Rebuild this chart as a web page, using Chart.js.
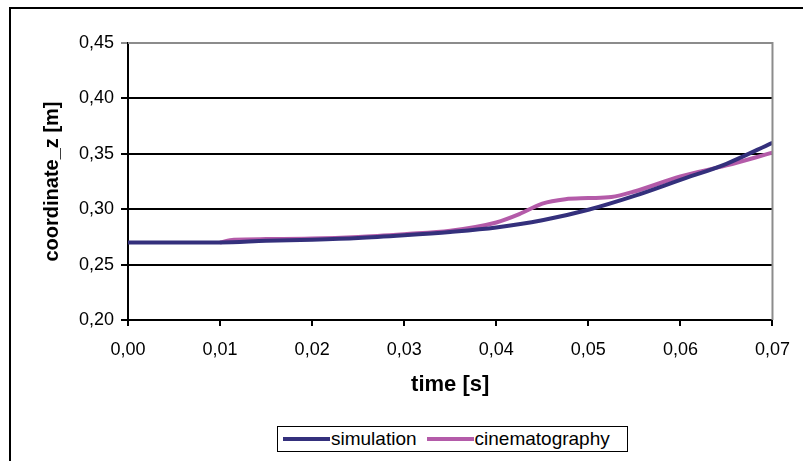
<!DOCTYPE html>
<html>
<head>
<meta charset="utf-8">
<script src="https://cdn.jsdelivr.net/npm/chart.js@4"></script>
<style>
  html, body { margin: 0; padding: 0; background: #fff; overflow: hidden; }
  #wrap { position: relative; width: 803px; height: 461px; }
  #frame { position: absolute; left: 9px; top: 7px; width: 900px; height: 600px; border: 2px solid #000; }
  #chart { position: absolute; left: 0; top: 0; }
  #legend {
    position: absolute; left: 277px; top: 426px; width: 344px; height: 24px;
    border: 1px solid #000; background: #fff;
    display: flex; align-items: center; padding: 0 0 0 5px; box-sizing: content-box;
    font-family: 'Liberation Sans', Arial, sans-serif; font-size: 19px; color: #000;
  }
  #legend .item { display: flex; align-items: center; margin-right: 10px; }
  #legend .item:last-child { margin-right: 0; }
  #legend .swatch { width: 47px; height: 4px; margin-right: 1px; }
</style>
</head>
<body>
<div id="wrap">
  <div id="frame"></div>
  <canvas id="chart" width="803" height="461"></canvas>
  <div id="legend"></div>
</div>
<script>
// ------------------------------------
// Data
// ------------------------------------
const seriesNames = ['simulation', 'cinematography'];
const seriesColors = ['#34307c', '#b45ba9'];

const simTime = [0, 0.005, 0.01, 0.015, 0.02, 0.025, 0.03, 0.035, 0.04, 0.045, 0.05, 0.055, 0.06, 0.065, 0.07];
const simZ    = [0.270, 0.270, 0.270, 0.2715, 0.2725, 0.274, 0.2765, 0.2795, 0.2835, 0.290, 0.2995, 0.312, 0.3265, 0.341, 0.360];

const cineTime = [0.01, 0.0115, 0.015, 0.02, 0.025, 0.03, 0.035, 0.04, 0.0425, 0.045, 0.0475, 0.05, 0.0525, 0.055, 0.06, 0.065, 0.07];
const cineZ    = [0.270, 0.2725, 0.273, 0.2735, 0.275, 0.2775, 0.2805, 0.288, 0.2955, 0.305, 0.309, 0.310, 0.311, 0.316, 0.3295, 0.3395, 0.351];

const xTicks = [0, 0.01, 0.02, 0.03, 0.04, 0.05, 0.06, 0.07];
const yTicks = [0.20, 0.25, 0.30, 0.35, 0.40, 0.45];

const toPoints = (xs, ys) => xs.map((x, i) => ({ x: x, y: ys[i] }));
const comma = v => Number(v).toFixed(2).replace('.', ',');

const tickFont = { family: "'Liberation Sans', Arial, sans-serif", size: 18 };
const titleFont = size => ({ family: "'Liberation Sans', Arial, sans-serif", size: size, weight: 'bold' });

// right + top plot border in grey
const plotBorder = {
    id: 'plotBorder',
    afterDatasetsDraw(chart) {
        const { ctx, chartArea: a } = chart;
        ctx.save();
        ctx.strokeStyle = '#8c8c8c';
        ctx.lineWidth = 2;
        ctx.beginPath();
        ctx.moveTo(a.left, a.top);
        ctx.lineTo(a.right, a.top);
        ctx.lineTo(a.right, a.bottom);
        ctx.stroke();
        ctx.restore();
    }
};

const datasets = [
    { label: seriesNames[0], data: toPoints(simTime, simZ) },
    { label: seriesNames[1], data: toPoints(cineTime, cineZ) }
].map((d, i) => Object.assign(d, {
    borderColor: seriesColors[i],
    backgroundColor: seriesColors[i],
    borderWidth: 4,
    pointRadius: 0,
    fill: false,
    cubicInterpolationMode: 'monotone'
}));

new Chart(document.getElementById('chart').getContext('2d'), {
    type: 'line',
    data: { datasets: datasets },
    plugins: [plotBorder],
    options: {
        responsive: false,
        animation: false,
        layout: { padding: { left: 0, top: 43, right: 27, bottom: 60 } },
        plugins: { legend: { display: false }, tooltip: { enabled: false } },
        scales: {
            x: {
                type: 'linear',
                min: xTicks[0],
                max: xTicks[xTicks.length - 1],
                afterBuildTicks: s => { s.ticks = xTicks.map(v => ({ value: v })); },
                afterFit: s => { s.height = 81; },
                ticks: { callback: v => comma(v), color: '#000', font: tickFont, padding: 13, maxRotation: 0 },
                grid: { drawOnChartArea: false, drawTicks: true, tickLength: 6, color: '#000', lineWidth: 2 },
                border: { display: true, color: '#000', width: 2 },
                title: { display: true, text: 'time [s]', color: '#000', padding: { top: 0, bottom: 3 }, font: titleFont(22) }
            },
            y: {
                min: yTicks[0],
                max: yTicks[yTicks.length - 1],
                afterBuildTicks: s => { s.ticks = yTicks.map(v => ({ value: v })); },
                afterFit: s => { s.width = 128; },
                ticks: { callback: v => comma(v), color: '#000', font: tickFont, padding: 7 },
                grid: {
                    drawTicks: true, tickLength: 7, lineWidth: 2,
                    color: c => (c.tick && c.tick.value > 0.449 ? '#8c8c8c' : '#000')
                },
                border: { display: true, color: '#000', width: 2 },
                title: { display: true, text: 'coordinate_z [m]', color: '#000', padding: { top: 40, bottom: 0 }, font: titleFont(20) }
            }
        }
    }
});

// legend box
const legend = document.getElementById('legend');
seriesNames.forEach((name, i) => {
    const item = document.createElement('div');
    item.className = 'item';
    item.innerHTML = `<span class="swatch" style="background:${seriesColors[i]}"></span><span>${name}</span>`;
    legend.appendChild(item);
});
</script>
</body>
</html>
